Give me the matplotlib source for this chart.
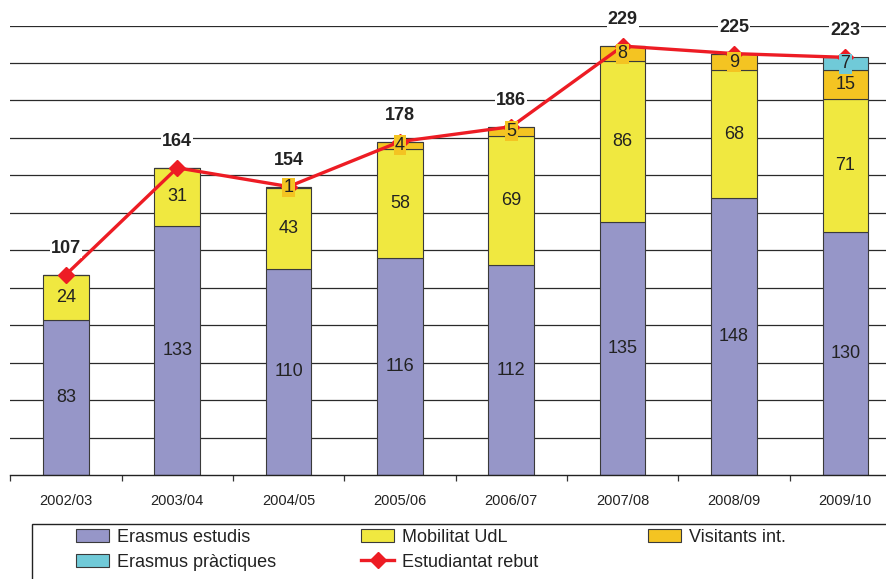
import matplotlib
matplotlib.use("Agg")
import matplotlib.pyplot as plt
from matplotlib.patches import Rectangle, Patch
from matplotlib.lines import Line2D
import numpy as np

plt.rcParams['font.family'] = ['Liberation Sans', 'DejaVu Sans']

categories = ["2002/03", "2003/04", "2004/05", "2005/06", "2006/07", "2007/08", "2008/09", "2009/10"]
erasmus_estudis = [83, 133, 110, 116, 112, 135, 148, 130]
mobilitat_udl = [24, 31, 43, 58, 69, 86, 68, 71]
visitants_int = [0, 0, 1, 4, 5, 8, 9, 15]
erasmus_practiques = [0, 0, 0, 0, 0, 0, 0, 7]
estudiantat_rebut = [107, 164, 154, 178, 186, 229, 225, 223]

series = [
    ("Erasmus estudis", erasmus_estudis, "#9696C8", False),
    ("Mobilitat UdL", mobilitat_udl, "#F0E840", False),
    ("Visitants int.", visitants_int, "#F4C422", True),
    ("Erasmus pràctiques", erasmus_practiques, "#70CAD8", True),
]
line_color = "#ED1C24"

fig = plt.figure(figsize=(8.86, 5.79), dpi=100)
ax = fig.add_axes([10.3 / 886, 1 - 475 / 579, 890.7 / 886, (475 - 25.5) / 579])

x = np.arange(len(categories))
bottom = np.zeros(len(categories))
for name, vals, col, boxed in series:
    v = np.array(vals, dtype=float)
    ax.bar(x, v, 0.41, bottom=bottom, color=col, edgecolor="#3a3a3a", linewidth=0.8, zorder=2)
    for i in range(len(x)):
        if v[i] > 0:
            kw = {}
            if boxed:
                kw['bbox'] = dict(boxstyle='square,pad=0.08', facecolor=col, edgecolor='none')
            ax.text(x[i], bottom[i] + v[i] / 2, str(int(v[i])), ha='center', va='center',
                    fontsize=13, color='#222222', zorder=5, **kw)
    bottom += v

ax.plot(x, estudiantat_rebut, color=line_color, linewidth=2.4, marker='D', markersize=8.5,
        zorder=4)
for i, t in enumerate(estudiantat_rebut):
    ax.annotate(str(t), (x[i], t), xytext=(0, 19), textcoords='offset points',
                ha='center', va='center', fontsize=13, fontweight='bold', color='#222222',
                bbox=dict(boxstyle='square,pad=0.05', facecolor='white', edgecolor='none'),
                zorder=6)

ax.set_xlim(-0.5, len(categories) - 0.5)
ax.set_ylim(0, 240)
ax.set_yticks(np.arange(20, 241, 20))
ax.yaxis.grid(True, color='#2a2a2a', linewidth=0.9)
ax.set_axisbelow(True)
ax.tick_params(axis='y', left=False, labelleft=False)
ax.set_xticks(x)
ax.set_xticklabels(categories, fontsize=10.5, color='#222222')
ax.tick_params(axis='x', which='major', length=0, pad=14)
ax.set_xticks(np.arange(-0.5, len(categories), 1), minor=True)
ax.tick_params(axis='x', which='minor', length=4.5, width=0.9, color='#333333')
for s in ['left', 'right', 'top']:
    ax.spines[s].set_visible(False)
ax.spines['bottom'].set_color('#222222')
ax.spines['bottom'].set_linewidth(1.0)

# legend frame
fig.patches.append(Rectangle((31.7 / 886, -0.05), 0.99, 1 - 524.3 / 579 + 0.05,
                             transform=fig.transFigure, fill=False, edgecolor='#222222',
                             linewidth=1.0))

def handle(name):
    for n, vals, col, boxed in series:
        if n == name:
            return Patch(facecolor=col, edgecolor='#3a3a3a', linewidth=0.8)
    return Line2D([], [], color=line_color, linewidth=2.4, marker='D', markersize=8)

columns = [
    (76, ["Erasmus estudis", "Erasmus pràctiques"]),
    (361, ["Mobilitat UdL", "Estudiantat rebut"]),
    (648, ["Visitants int."]),
]
for xpix, names in columns:
    leg = fig.legend([handle(n) for n in names], names, loc='upper left',
                     bbox_to_anchor=(xpix / 886, 1 - 529 / 579), frameon=False,
                     fontsize=13, handlelength=1.85, handleheight=0.7, handletextpad=0.4,
                     borderpad=0, borderaxespad=0, labelspacing=0.42)
    for t in leg.get_texts():
        t.set_color('#222222')

fig.savefig("out.png", dpi=100)
